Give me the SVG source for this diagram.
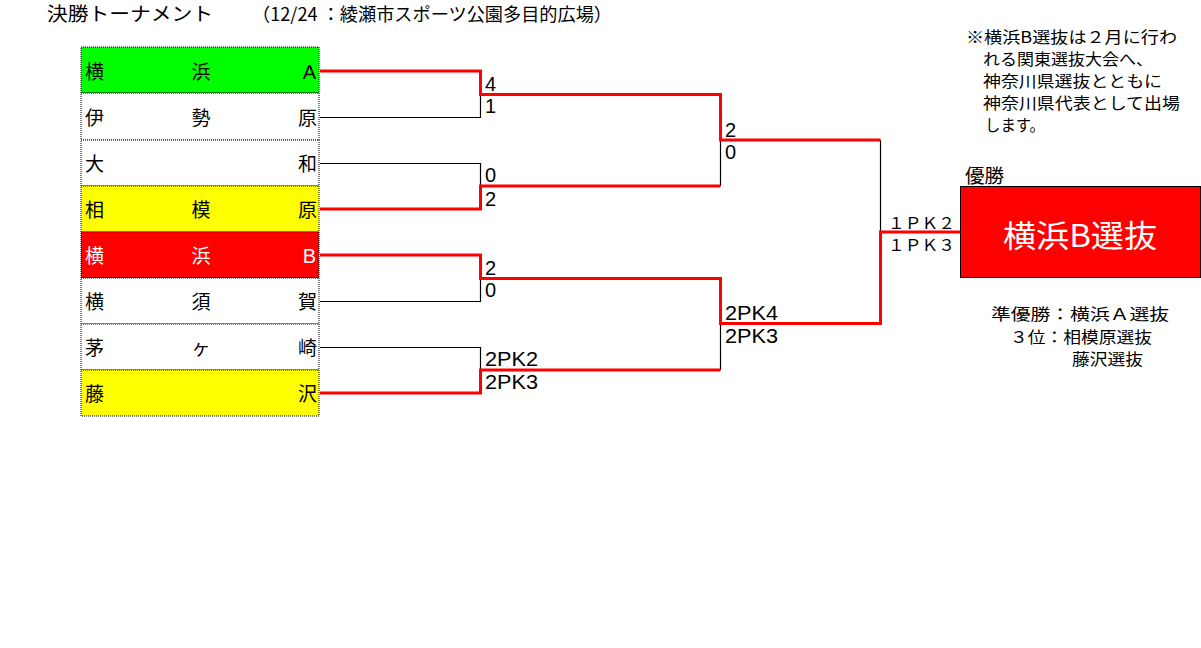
<svg xmlns="http://www.w3.org/2000/svg" width="1201" height="648" viewBox="0 0 1201 648">
<style>
text{font-family:"Liberation Sans","Noto Sans CJK JP",sans-serif;fill:#000;}
.cj{font-family:"Noto Sans CJK JP","Liberation Sans",sans-serif;}
.tm{font-size:19px;}
.ta{font-size:20px;}
.sc{font-size:20px;}
.nt{font-size:16px;}
.row{stroke:#000;stroke-width:1;stroke-dasharray:1 1;}
.lose{fill:none;stroke:#000;stroke-width:1.2;}
.win{fill:none;stroke:#f00;stroke-width:3;}
.wt{fill:#fff;}
</style>
<rect width="1201" height="648" fill="#fff"/>
<g id="title">
<text class="cj" x="47" y="21" font-size="19" textLength="166" lengthAdjust="spacingAndGlyphs">決勝トーナメント</text>
<text class="cj" x="252" y="21" font-size="18" textLength="360" lengthAdjust="spacingAndGlyphs">（12/24 ：綾瀬市スポーツ公園多目的広場）</text>
</g>
<g id="teams">
<g id="team1"><rect class="row" x="81" y="47" width="238" height="46" fill="#00ff00"/>
<text class="cj tm" x="85" y="79">横</text><text class="cj tm" x="201" y="79" text-anchor="middle">浜</text><text class="ta" x="316" y="79" text-anchor="end">A</text></g>
<g id="team2"><rect class="row" x="81" y="93" width="238" height="47" fill="#fff"/>
<text class="cj tm" x="85" y="125">伊</text><text class="cj tm" x="201" y="125" text-anchor="middle">勢</text><text class="cj tm" x="317" y="125" text-anchor="end">原</text></g>
<g id="team3"><rect class="row" x="81" y="140" width="238" height="46" fill="#fff"/>
<text class="cj tm" x="85" y="171">大</text><text class="cj tm" x="317" y="171" text-anchor="end">和</text></g>
<g id="team4"><rect class="row" x="81" y="186" width="238" height="46" fill="#ffff00"/>
<text class="cj tm" x="85" y="217">相</text><text class="cj tm" x="201" y="217" text-anchor="middle">模</text><text class="cj tm" x="317" y="217" text-anchor="end">原</text></g>
<g id="team5"><rect class="row" x="81" y="232" width="238" height="46" fill="#ff0000"/>
<text class="cj tm wt" x="85" y="263">横</text><text class="cj tm wt" x="201" y="263" text-anchor="middle">浜</text><text class="ta wt" x="316" y="263" text-anchor="end">B</text></g>
<g id="team6"><rect class="row" x="81" y="278" width="238" height="46" fill="#fff"/>
<text class="cj tm" x="85" y="309">横</text><text class="cj tm" x="201" y="309" text-anchor="middle">須</text><text class="cj tm" x="317" y="309" text-anchor="end">賀</text></g>
<g id="team7"><rect class="row" x="81" y="324" width="238" height="46" fill="#fff"/>
<text class="cj tm" x="85" y="355">茅</text><text class="cj tm" x="201" y="355" text-anchor="middle">ヶ</text><text class="cj tm" x="317" y="355" text-anchor="end">崎</text></g>
<g id="team8"><rect class="row" x="81" y="370" width="238" height="46" fill="#ffff00"/>
<text class="cj tm" x="85" y="401">藤</text><text class="cj tm" x="317" y="401" text-anchor="end">沢</text></g>
</g>
<g id="connectors">
<path class="lose" d="M320,117.5 H480.5 V94"/>
<path class="lose" d="M320,163.5 H480.5 V186"/>
<path class="lose" d="M320,301.5 H480.5 V278"/>
<path class="lose" d="M320,347.5 H480.5 V370"/>
<path class="lose" d="M720.5,186 V140"/>
<path class="lose" d="M720.5,370 V324"/>
<path class="lose" d="M880.5,140 V232"/>
<path class="win" d="M320,71 H480.5 V94.5 H720.5 V140 H880.5"/>
<path class="win" d="M320,209 H480.5 V186 H720.5"/>
<path class="win" d="M320,255 H480.5 V278.5 H720.5 V323.5 H880.5 V232 H960"/>
<path class="win" d="M320,393 H480.5 V370 H720.5"/>
</g>
<g id="scores">
<text class="sc" x="485" y="91">4</text>
<text class="sc" x="485" y="113">1</text>
<text class="sc" x="485" y="182">0</text>
<text class="sc" x="485" y="206">2</text>
<text class="sc" x="485" y="275">2</text>
<text class="sc" x="485" y="297">0</text>
<text class="sc" x="485" y="366" textLength="53" lengthAdjust="spacingAndGlyphs">2PK2</text>
<text class="sc" x="485" y="389" textLength="53" lengthAdjust="spacingAndGlyphs">2PK3</text>
<text class="sc" x="725" y="137">2</text>
<text class="sc" x="725" y="159">0</text>
<text class="sc" x="725" y="320" textLength="53" lengthAdjust="spacingAndGlyphs">2PK4</text>
<text class="sc" x="725" y="343" textLength="53" lengthAdjust="spacingAndGlyphs">2PK3</text>
<text class="cj" font-size="16" x="888" y="229" textLength="67" lengthAdjust="spacingAndGlyphs">１ＰＫ２</text>
<text class="cj" font-size="16" x="888" y="251" textLength="67" lengthAdjust="spacingAndGlyphs">１ＰＫ３</text>
</g>
<g id="champion">
<text class="cj" font-size="19" x="965" y="183" textLength="39" lengthAdjust="spacingAndGlyphs">優勝</text>
<rect x="960.5" y="186.5" width="240" height="91" fill="#ff0000" stroke="#000" stroke-width="1"/>
<text class="cj wt" font-size="31" x="1080" y="247" text-anchor="middle" textLength="154" lengthAdjust="spacingAndGlyphs">横浜B選抜</text>
</g>
<g id="note">
<text class="cj nt" x="966" y="43" textLength="211" lengthAdjust="spacingAndGlyphs">※横浜B選抜は２月に行わ</text>
<text class="cj nt" x="983" y="65" textLength="170" lengthAdjust="spacingAndGlyphs">れる関東選抜大会へ、</text>
<text class="cj nt" x="983" y="87" textLength="179" lengthAdjust="spacingAndGlyphs">神奈川県選抜とともに</text>
<text class="cj nt" x="983" y="109" textLength="197" lengthAdjust="spacingAndGlyphs">神奈川県代表として出場</text>
<text class="cj nt" x="985" y="131" textLength="60" lengthAdjust="spacingAndGlyphs">します。</text>
</g>
<g id="results">
<text class="cj nt" x="991" y="320" textLength="178" lengthAdjust="spacingAndGlyphs">準優勝：横浜Ａ選抜</text>
<text class="cj nt" x="1010" y="343" textLength="142" lengthAdjust="spacingAndGlyphs">３位：相模原選抜</text>
<text class="cj nt" x="1072" y="365" textLength="71" lengthAdjust="spacingAndGlyphs">藤沢選抜</text>
</g>
</svg>
